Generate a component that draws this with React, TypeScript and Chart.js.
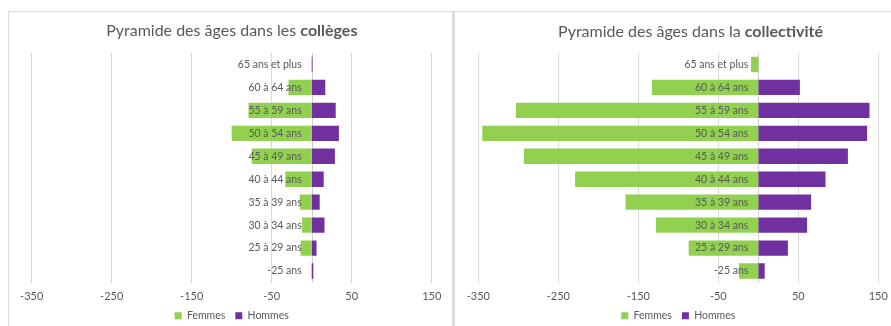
import React, { useEffect, useRef } from "react";
import { Chart, registerables } from "chart.js";

Chart.register(...registerables);

// ---------- data ----------
const categories = [
  "65 ans et plus",
  "60 à 64 ans",
  "55 à 59 ans",
  "50 à 54 ans",
  "45 à 49 ans",
  "40 à 44 ans",
  "35 à 39 ans",
  "30 à 34 ans",
  "25 à 29 ans",
  "-25 ans",
];
const collegesFemmes = [0, 29, 79, 100, 75, 33, 15, 12, 14, 0];
const collegesHommes = [1, 17, 30, 34, 29, 15, 10, 16, 6, 2];
const collectiviteFemmes = [9, 133, 303, 345, 293, 229, 166, 128, 87, 24];
const collectiviteHommes = [0, 52, 139, 136, 112, 84, 66, 61, 37, 8];
const xTicks = [-350, -250, -150, -50, 50, 150];
const seriesNames = ["Femmes", "Hommes"];

const FONT = "Lato";
const TEXT = "#595959";
const GREEN = "#92d050";
const PURPLE = "#7030a0";
const GRID = "#d9d9d9";

const mixedTitlePlugin = {
  id: "mixedTitle",
  afterDraw(chart: any, _args: any, opts: any) {
    const ctx = chart.ctx;
    const { normal, bold, cx, cy, size } = opts;
    ctx.save();
    ctx.font = `${size}px ${FONT}`;
    const w1 = ctx.measureText(normal).width;
    ctx.font = `bold ${size}px ${FONT}`;
    const w2 = ctx.measureText(bold).width;
    const start = cx - (w1 + w2) / 2;
    ctx.fillStyle = TEXT;
    ctx.textBaseline = "middle";
    ctx.textAlign = "left";
    ctx.font = `${size}px ${FONT}`;
    ctx.fillText(normal, start, cy);
    ctx.font = `bold ${size}px ${FONT}`;
    ctx.fillText(bold, start + w1, cy);
    ctx.restore();
  },
};

const axisLabelsPlugin = {
  id: "axisLabels",
  beforeDatasetsDraw(chart: any) {
    const ctx = chart.ctx;
    const x0 = chart.scales.x.getPixelForValue(0);
    const { top, bottom } = chart.chartArea;
    ctx.save();
    ctx.strokeStyle = "#cfcfcf";
    ctx.lineWidth = 1;
    ctx.beginPath();
    ctx.moveTo(Math.round(x0) + 0.5, top);
    ctx.lineTo(Math.round(x0) + 0.5, bottom);
    ctx.stroke();
    ctx.restore();
  },
  afterDatasetsDraw(chart: any) {
    const ctx = chart.ctx;
    const x0 = chart.scales.x.getPixelForValue(0);
    const yScale = chart.scales.y;
    ctx.save();
    ctx.font = `10.5px ${FONT}`;
    ctx.fillStyle = TEXT;
    ctx.textAlign = "right";
    ctx.textBaseline = "middle";
    (chart.data.labels as string[]).forEach((lab, i) => {
      ctx.fillText(lab, x0 - 10, yScale.getPixelForValue(i));
    });
    ctx.restore();
  },
};

function Pyramid(props: {
  femmes: number[];
  hommes: number[];
  normal: string;
  bold: string;
  titleCx: number;
  titleCy: number;
  padLeft: number;
  padRight: number;
}) {
  const ref = useRef<HTMLCanvasElement>(null);
  useEffect(() => {
    const chart = new Chart(ref.current!, {
      type: "bar",
      data: {
        labels: categories,
        datasets: [
          {
            label: seriesNames[0],
            data: props.femmes.map((v) => -v),
            backgroundColor: GREEN,
            borderWidth: 0,
          },
          {
            label: seriesNames[1],
            data: props.hommes,
            backgroundColor: PURPLE,
            borderWidth: 0,
          },
        ],
      },
      options: {
        indexAxis: "y",
        animation: false,
        responsive: false,
        layout: {
          padding: { top: 41, left: props.padLeft, right: props.padRight, bottom: 11 },
        },
        datasets: {
          bar: { barPercentage: 0.667, categoryPercentage: 1 },
        },
        scales: {
          x: {
            stacked: true,
            min: xTicks[0],
            max: xTicks[xTicks.length - 1],
            afterBuildTicks: (scale: any) => {
              scale.ticks = xTicks.map((v) => ({ value: v }));
            },
            afterFit: (scale: any) => {
              scale.height = 18;
            },
            grid: { color: GRID, drawTicks: false, lineWidth: 1 },
            border: { display: false },
            ticks: {
              padding: 7,
              color: TEXT,
              font: { family: FONT, size: 11 },
              callback: (v: any) => String(v),
            },
          },
          y: {
            stacked: true,
            display: false,
          },
        },
        plugins: {
          legend: {
            position: "bottom",
            labels: {
              boxWidth: 7,
              boxHeight: 7,
              padding: 10,
              color: TEXT,
              font: { family: FONT, size: 10.5 },
            },
          },
          tooltip: { enabled: false },
          mixedTitle: {
            normal: props.normal,
            bold: props.bold,
            cx: props.titleCx,
            cy: props.titleCy,
            size: 16,
          },
        } as any,
      },
      plugins: [mixedTitlePlugin, axisLabelsPlugin],
    });
    return () => chart.destroy();
  }, []);
  return <canvas ref={ref} width={443} height={330} style={{ display: "block" }} />;
}

export default function App() {
  return (
    <div
      style={{
        position: "fixed",
        left: 0,
        top: 0,
        width: 891,
        height: 326,
        overflow: "hidden",
        background: "#fff",
      }}
    >
      <div
        style={{
          position: "absolute",
          left: 8,
          top: 11,
          width: 443,
          height: 400,
          borderLeft: "1px solid #dcdcdc",
          borderTop: "1px solid #dcdcdc",
          borderRight: "3px solid #dcdcdc",
        }}
      >
        <Pyramid
          femmes={collegesFemmes}
          hommes={collegesHommes}
          normal="Pyramide des âges dans les "
          bold="collèges"
          titleCx={222.8}
          titleCy={19}
          padLeft={22.7}
          padRight={20.3}
        />
      </div>
      <div
        style={{
          position: "absolute",
          left: 455,
          top: 11,
          width: 480,
          height: 400,
          borderTop: "1px solid #dcdcdc",
        }}
      >
        <Pyramid
          femmes={collectiviteFemmes}
          hommes={collectiviteHommes}
          normal="Pyramide des âges dans la "
          bold="collectivité"
          titleCx={235.5}
          titleCy={20.3}
          padLeft={23.3}
          padRight={19.7}
        />
      </div>
    </div>
  );
}
